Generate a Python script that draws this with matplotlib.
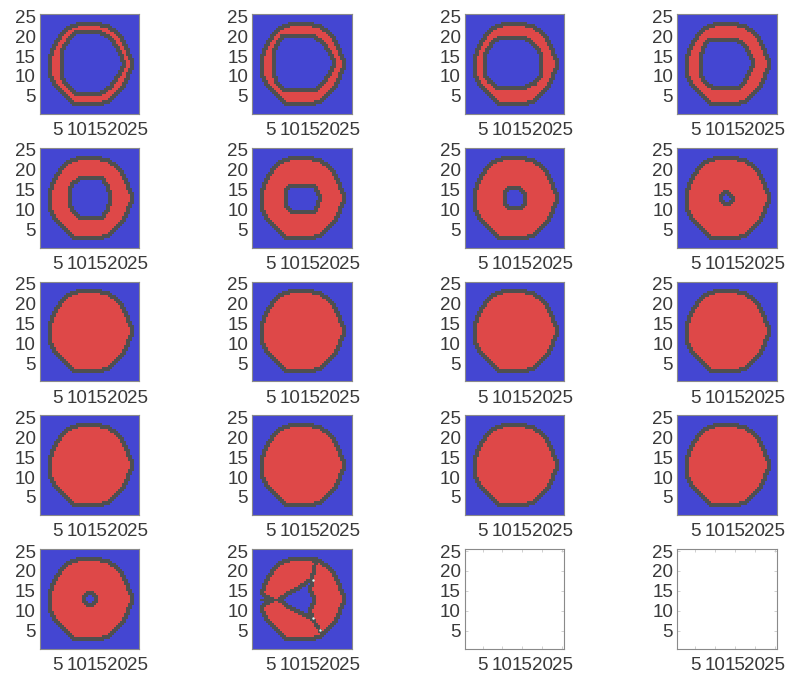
import numpy as np
import matplotlib
matplotlib.use("Agg")
import matplotlib.pyplot as plt
from matplotlib.colors import ListedColormap
from matplotlib.path import Path

plt.rcParams['font.family'] = ['Liberation Sans', 'DejaVu Sans']

# ---------------- data ----------------
# outer boundary of the red region (shared by panels 1-17)
OUTER_X = [9.6, 15.85, 17.9, 19.9, 21.4, 22.5, 23.8, 22.5, 21.3, 19.6, 17.6, 15.85, 8.7, 6.6, 4.5, 3.1, 3.27, 4.95, 7.04]
OUTER_Y = [22.8, 22.8, 22.3, 20.9, 18.9, 16.4, 13.0, 9.7, 7.3, 5.2, 3.6, 3.0, 3.0, 5.1, 7.2, 9.7, 16.4, 19.3, 21.8]

# outer boundary of panel 18 (with the notch on the left)
OUTER18_X = [9.6, 15.85, 17.9, 19.9, 21.4, 22.5, 23.8, 22.5, 21.3, 19.6, 17.6, 15.85, 8.7, 6.6, 4.5, 3.1, 3.2, 5.3, 3.2, 3.27, 4.95, 7.04]
OUTER18_Y = [22.8, 22.8, 22.3, 20.9, 18.9, 16.4, 13.0, 9.7, 7.3, 5.2, 3.6, 3.0, 3.0, 5.1, 7.2, 9.7, 11.7, 12.75, 13.8, 16.4, 19.3, 21.8]

# inner (blue) holes
HOLE1_X = [9.9, 15.5, 18.1, 19.9, 21.5, 19.9, 17.9, 15.5, 9.6, 7.4, 6.0, 6.0, 7.7]
HOLE1_Y = [20.9, 20.9, 19.3, 16.6, 13.2, 10.0, 7.2, 5.6, 5.6, 7.7, 9.9, 16.1, 18.8]
HOLE2_X = [8.4, 15.7, 18.2, 19.9, 21.0, 19.9, 18.1, 15.9, 8.6, 6.8, 6.0, 6.0, 7.0]
HOLE2_Y = [20.0, 20.0, 18.1, 15.7, 13.2, 10.7, 8.3, 6.4, 6.4, 8.4, 10.6, 15.7, 18.1]
HOLE3_X = [9.1, 15.4, 18.3, 19.6, 19.6, 17.8, 14.6, 9.1, 6.8, 5.7, 5.7, 7.1]
HOLE3_Y = [19.5, 19.5, 17.2, 15.0, 10.5, 8.2, 7.0, 7.0, 8.6, 10.3, 15.3, 17.8]
HOLE4_X = [8.8, 15.2, 17.6, 18.6, 19.6, 18.6, 17.6, 15.6, 9.7, 7.6, 6.7, 6.7, 7.5]
HOLE4_Y = [19.1, 19.1, 17.2, 15.2, 13.2, 11.2, 9.0, 7.0, 7.0, 8.6, 10.0, 15.3, 17.6]
HOLE5_X = [10.7, 15.8, 17.2, 18.3, 17.2, 15.8, 10.7, 8.9, 8.1, 8.1, 8.9]
HOLE5_Y = [17.9, 17.9, 16.0, 12.9, 9.9, 8.1, 8.1, 9.9, 11.2, 15.4, 16.6]
HOLE6_X = [10.8, 15.8, 16.6, 17.5, 16.6, 15.8, 10.8, 9.6, 9.0, 9.0, 9.6]
HOLE6_Y = [16.2, 16.2, 15.0, 12.9, 10.6, 9.5, 9.5, 10.5, 11.3, 14.6, 15.5]
HOLE7_X = [11.8, 14.0, 15.5, 15.5, 14.0, 11.8, 10.3, 10.3]
HOLE7_Y = [15.5, 15.5, 14.0, 11.8, 10.3, 10.3, 11.8, 14.0]
HOLE8_X = [12.8, 14.5, 12.8, 11.1]
HOLE8_Y = [14.6, 12.9, 11.2, 12.9]
HOLE17_X = [12.9, 14.6, 12.9, 11.2]
HOLE17_Y = [14.7, 13.0, 11.3, 13.0]
HOLE18_X = [7.6, 10.0, 12.8, 15.4, 15.0, 16.0, 15.0, 15.4, 12.8, 10.0]
HOLE18_Y = [12.75, 14.6, 16.0, 17.75, 15.0, 12.75, 10.5, 8.2, 9.6, 11.0]

# cracks (gray lines) and light dots in panel 18
CRACK_X0 = [7.6, 15.4, 15.4]
CRACK_Y0 = [12.75, 17.75, 8.2]
CRACK_X1 = [2.8, 16.6, 17.8]
CRACK_Y1 = [12.75, 22.9, 4.6]
DOT_X = [15.7, 15.7, 17.6]
DOT_Y = [17.75, 8.2, 5.25]

PANEL_OUTER = ['A'] * 17 + ['B', None, None]
PANEL_HOLE = [(HOLE1_X, HOLE1_Y), (HOLE2_X, HOLE2_Y), (HOLE3_X, HOLE3_Y), (HOLE4_X, HOLE4_Y),
              (HOLE5_X, HOLE5_Y), (HOLE6_X, HOLE6_Y), (HOLE7_X, HOLE7_Y), (HOLE8_X, HOLE8_Y),
              None, None, None, None, None, None, None, None,
              (HOLE17_X, HOLE17_Y), (HOLE18_X, HOLE18_Y), None, None]

TICKS = [5, 10, 15, 20, 25]
TICK_LABELS = ['5', '10', '15', '20', '25']

# ---------------- style ----------------
BLUE = '#4446d2'
RED = '#de4848'
GRAY = '#4f4f4f'
cmap = ListedColormap([BLUE, RED, GRAY])

W, H = 789, 681
fig = plt.figure(figsize=(W / 100, H / 100), dpi=100)

res = 0.5
centers = np.arange(0.5 + res / 2, 25.5, res)
GX, GY = np.meshgrid(centers, centers)
pts = np.column_stack([GX.ravel(), GY.ravel()])


def inside(xs, ys):
    return Path(np.column_stack([xs, ys])).contains_points(pts).reshape(GX.shape)


def seg_dist(x0, y0, x1, y1):
    dx, dy = x1 - x0, y1 - y0
    t = np.clip(((GX - x0) * dx + (GY - y0) * dy) / (dx * dx + dy * dy), 0, 1)
    return np.hypot(GX - (x0 + t * dx), GY - (y0 + t * dy))


for k in range(20):
    r, c = divmod(k, 4)
    left = (39.7 + 212.5 * c) / W
    top = 14.3 + 133.7 * r
    ax = fig.add_axes([left, 1 - (top + 99.5) / H, 99.3 / W, 99.5 / H])
    if PANEL_OUTER[k] is not None:
        if PANEL_OUTER[k] == 'A':
            red = inside(OUTER_X, OUTER_Y)
        else:
            red = inside(OUTER18_X, OUTER18_Y)
        if PANEL_HOLE[k] is not None:
            red &= ~inside(*PANEL_HOLE[k])
        lab = red.astype(int)
        p = np.pad(lab, 1, mode='edge')
        n, m = lab.shape
        border = np.zeros_like(red)
        for di in (-1, 0, 1):
            for dj in (-1, 0, 1):
                diff = lab != p[1 + di:1 + di + n, 1 + dj:1 + dj + m]
                if di == 0 or dj == 0:
                    border |= diff
                else:
                    border |= diff & red
        state = lab.copy()
        state[border] = 2
        if PANEL_OUTER[k] == 'B':
            for x0, y0, x1, y1 in zip(CRACK_X0, CRACK_Y0, CRACK_X1, CRACK_Y1):
                state[seg_dist(x0, y0, x1, y1) < 0.5] = 2
        ax.imshow(state, cmap=cmap, vmin=0, vmax=2, origin='lower',
                  extent=(0.5, 25.5, 0.5, 25.5), interpolation='nearest', aspect='auto')
        if PANEL_OUTER[k] == 'B':
            ax.scatter(DOT_X, DOT_Y, s=3, color='#d8f8f4', zorder=3, linewidths=0)
        tick_col = 'none'
    else:
        tick_col = '#c8c8c8'
    ax.set_xlim(0.5, 25.5)
    ax.set_ylim(0.5, 25.5)
    ax.set_xticks(TICKS)
    ax.set_xticklabels(TICK_LABELS)
    ax.set_yticks(TICKS)
    ax.set_yticklabels(TICK_LABELS)
    ax.tick_params(direction='in', length=2, width=0.6, color=tick_col,
                   labelsize=13.5, labelcolor='#3a3a3a', top=True, right=True)
    ax.tick_params(axis='x', pad=6)
    ax.tick_params(axis='y', pad=3)
    for s in ax.spines.values():
        s.set_color('#8a8a8a')
        s.set_linewidth(0.8)

fig.savefig('out.png', dpi=100)
